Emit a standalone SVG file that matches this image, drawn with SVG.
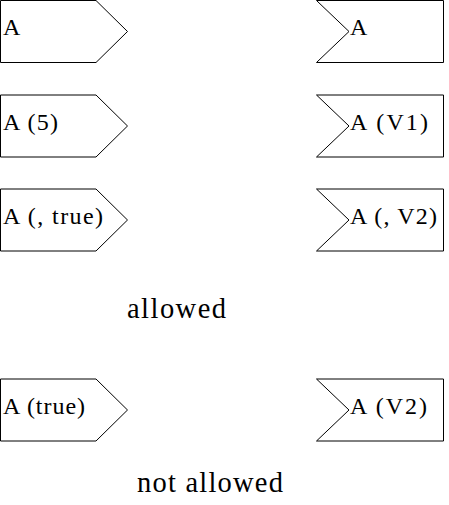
<svg xmlns="http://www.w3.org/2000/svg" width="449" height="505" viewBox="0 0 449 505">
<style>
.s{fill:#fff;stroke:#000;stroke-width:1}
.t{font-family:"Liberation Serif","Times New Roman",serif;font-size:24px;fill:#000}
.c{font-family:"Liberation Serif","Times New Roman",serif;font-size:28.5px;fill:#000}
</style>
<defs>
<polygon id="send" points="0.5,0.5 96,0.5 127.5,31.5 96,62.5 0.5,62.5"/>
<polygon id="accept" points="316.5,0.5 443.5,0.5 443.5,62.5 316.5,62.5 349,31.5"/>
</defs>
<rect width="449" height="505" fill="#fff"/>
<g id="send1"><use href="#send" class="s" y="0"/><text class="t" x="3" y="35">A</text></g>
<g id="accept1"><use href="#accept" class="s" y="0"/><text class="t" x="350" y="35">A</text></g>
<g id="send2"><use href="#send" class="s" y="94.5"/><text class="t" x="3" y="130" textLength="55" lengthAdjust="spacing">A (5)</text></g>
<g id="accept2"><use href="#accept" class="s" y="94.5"/><text class="t" x="350" y="130" textLength="78" lengthAdjust="spacing">A (V1)</text></g>
<g id="send3"><use href="#send" class="s" y="188.5"/><text class="t" x="3" y="224" textLength="100" lengthAdjust="spacing">A (, true)</text></g>
<g id="accept3"><use href="#accept" class="s" y="188.5"/><text class="t" x="350" y="224" textLength="87" lengthAdjust="spacing">A (, V2)</text></g>
<text class="c" x="127" y="318" textLength="99" lengthAdjust="spacing">allowed</text>
<g id="send4"><use href="#send" class="s" y="378.5"/><text class="t" x="3" y="414" textLength="82" lengthAdjust="spacing">A (true)</text></g>
<g id="accept4"><use href="#accept" class="s" y="378.5"/><text class="t" x="350" y="414" textLength="77" lengthAdjust="spacing">A (V2)</text></g>
<text class="c" x="137" y="492" textLength="146" lengthAdjust="spacing">not allowed</text>
<g id="connectors"/>
</svg>
